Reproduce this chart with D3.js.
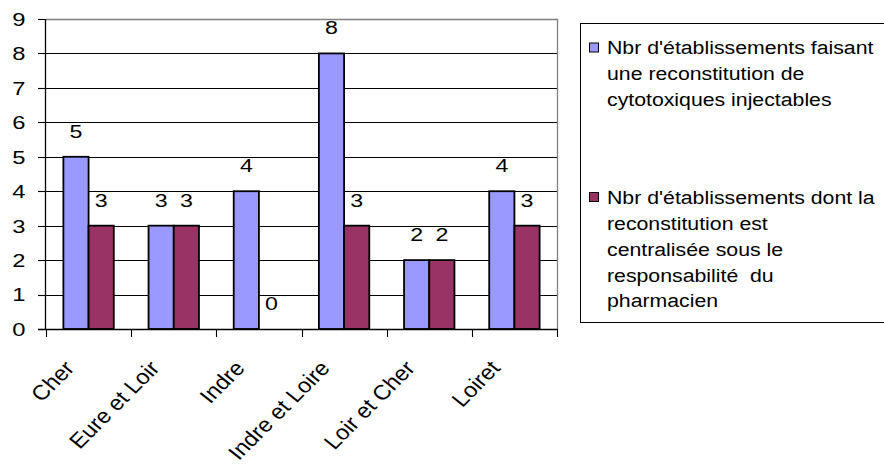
<!DOCTYPE html>
<html><head><meta charset="utf-8">
<script src="https://cdn.jsdelivr.net/npm/d3@7"></script>
<style>
html,body{margin:0;padding:0;background:#fff;}
svg{display:block;font-family:Arial,"Liberation Sans",sans-serif;}
</style></head>
<body>
<svg id="chart" width="884" height="470"></svg>
<script>
const categories = ["Cher","Eure et Loir","Indre","Indre et Loire","Loir et Cher","Loiret"];
const seriesNames = ["Nbr d'établissements faisant une reconstitution de cytotoxiques injectables",
                     "Nbr d'établissements dont la reconstitution est centralisée sous le responsabilité  du pharmacien"];
const legendLines = [["Nbr d'établissements faisant","une reconstitution de","cytotoxiques injectables"],
                     ["Nbr d'établissements dont la","reconstitution est","centralisée sous le","responsabilité  du","pharmacien"]];
const seriesA = [5,3,4,8,2,4];
const seriesB = [3,3,0,3,2,3];
const yTicks = [0,1,2,3,4,5,6,7,8,9];
const colors = ["#9999FF","#993366"];

const svg = d3.select("#chart");
const L = 46, R = 557, T = 19, B = 329;
const x0 = d3.scaleBand().domain(categories).range([L, R]).padding(0);
const x1 = d3.scaleBand().domain([0,1]).range([0, x0.bandwidth()]).paddingInner(0).paddingOuter(0.69);
const y = d3.scaleLinear().domain([0,9]).range([B, T]);
const py = v => Math.round(y(v)) + 0.5;

// gridlines
svg.append("g").selectAll("line").data(yTicks.filter(d => d > 0 && d < 9)).join("line")
  .attr("x1", L).attr("x2", R).attr("y1", py).attr("y2", py)
  .attr("stroke", "#000").attr("stroke-width", 1.1);
// plot border top/right gray
svg.append("path").attr("d", `M${L},${py(9)}H${R + 0.5}V${B}`).attr("fill","none")
  .attr("stroke", "#808080").attr("stroke-width", 1.3);

// bars
const data = [seriesA, seriesB];
const gBars = svg.append("g");
categories.forEach((c, i) => {
  [0,1].forEach(s => {
    const v = data[s][i];
    const bx = x0(c) + x1(s);
    gBars.append("rect")
      .attr("x", bx).attr("y", y(v)).attr("width", x1.bandwidth()).attr("height", y(0) - y(v))
      .attr("fill", colors[s]).attr("stroke", "#000").attr("stroke-width", 1.8);
    gBars.append("text")
      .attr("transform", `translate(${bx + x1.bandwidth()/2},${y(v) - 26}) scale(1.22,1)`)
      .attr("text-anchor", "middle").attr("dy", "0.36em")
      .attr("font-size", 19).attr("fill", "#000").text(v);
  });
});

// axes lines
svg.append("line").attr("x1", L - 0.5).attr("x2", L - 0.5).attr("y1", T).attr("y2", B + 0.5)
  .attr("stroke", "#000").attr("stroke-width", 1.3);
svg.append("line").attr("x1", L - 8).attr("x2", R + 0.5).attr("y1", B + 0.5).attr("y2", B + 0.5)
  .attr("stroke", "#000").attr("stroke-width", 1.3);

// y ticks & labels
const gy = svg.append("g");
yTicks.forEach(t => {
  gy.append("line").attr("x1", L - 8).attr("x2", L).attr("y1", py(t)).attr("y2", py(t))
    .attr("stroke", "#000").attr("stroke-width", 1.1);
  gy.append("text").attr("transform", `translate(25.5,${y(t)}) scale(1.25,1)`)
    .attr("text-anchor", "end").attr("dy", "0.36em").attr("font-size", 19).text(t);
});

// x ticks
const boundaries = categories.map(c => x0(c)).concat([R]);
svg.append("g").selectAll("line").data(boundaries).join("line")
  .attr("x1", d => Math.round(d) + 0.5).attr("x2", d => Math.round(d) + 0.5)
  .attr("y1", B).attr("y2", B + 8).attr("stroke", "#000").attr("stroke-width", 1.1);

// x labels
svg.append("g").selectAll("text").data(categories).join("text")
  .attr("transform", d => `translate(${x0(d) + x0.bandwidth()/2 - 13},${B + 40}) scale(1.12,1) rotate(-48.2)`)
  .attr("text-anchor", "end").attr("font-size", 21).text(d => d);

// legend
const lg = svg.append("g");
lg.append("rect").attr("x", 580.5).attr("y", 23.5).attr("width", 330).attr("height", 299)
  .attr("fill", "#fff").attr("stroke", "#000").attr("stroke-width", 1);
const itemTop = [47.5, 197];
legendLines.forEach((lines, s) => {
  lg.append("rect").attr("x", 589.5).attr("y", itemTop[s] - 4.5).attr("width", 9).attr("height", 9)
    .attr("fill", colors[s]).attr("stroke", "#000").attr("stroke-width", 1);
  lines.forEach((ln, k) => {
    lg.append("text").attr("transform", `translate(607,${itemTop[s] + k * 25.9}) scale(1.12,1)`)
      .attr("dy", "0.36em").attr("font-size", 19).style("white-space","pre").text(ln);
  });
});
</script>
</body></html>
